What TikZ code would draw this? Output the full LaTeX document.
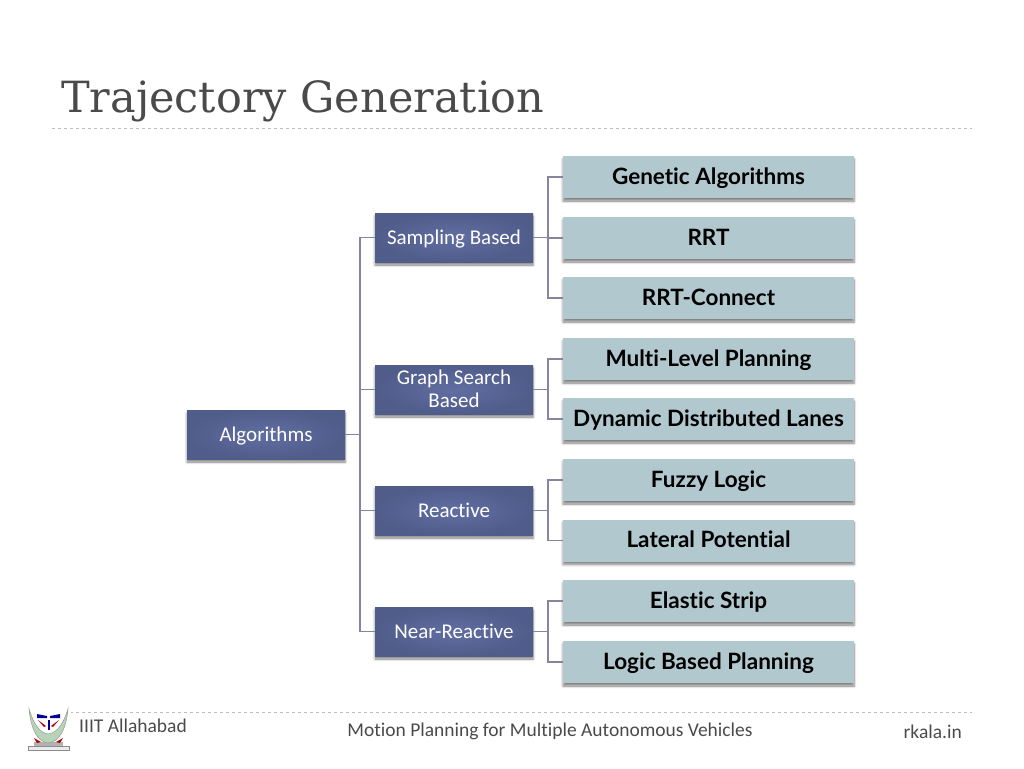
\documentclass[tikz,border=0pt]{standalone}
\usepackage{xcolor}
\usepackage{fontspec}
\setmainfont[Ligatures=NoCommon]{Carlito}
\newfontfamily\titlefont{DejaVu Serif}
\newfontfamily\leaffont[Ligatures=NoCommon]{Lato}
\usetikzlibrary{shadows.blur}
\definecolor{midblue}{HTML}{616EA2}
\definecolor{edgeblue}{HTML}{505C8A}
\definecolor{leafblue}{HTML}{B2C8CF}
\definecolor{linkgray}{HTML}{85859F}
\definecolor{rulegray}{HTML}{BDBDBD}
\definecolor{inkgray}{HTML}{4A4A4A}

\begin{document}
\begin{tikzpicture}[
		x=1pt,
		y=-1pt,
		soft/.style={blur shadow={shadow xshift=0pt, shadow yshift=-3pt, shadow blur radius=2.5pt, shadow blur steps=6, shadow opacity=50}},
		parent/.style={inner sep=0pt, minimum width=158pt, minimum height=49pt, align=center, text=white, soft, shade, inner color=midblue, outer color=edgeblue, font=\fontsize{21}{22}\selectfont},
		one line/.style={text height=14pt, text depth=0pt},
		leaf/.style={inner sep=0pt, minimum width=291pt, minimum height=42pt, one line, fill=leafblue, soft, font=\fontsize{22.5}{23}\leaffont\bfseries},
		link/.style={linkgray, line width=1.5pt},
		rule/.style={rulegray, dashed, line width=0.8pt},
		foot/.style={inner sep=0pt, text=inkgray, font=\fontsize{19.5}{22}\selectfont}
		]
	\useasboundingbox (0, 0) rectangle (1024, 768);

	% Title
	\node[anchor=base west, inner sep=0pt, text=inkgray, font=\fontsize{43}{50}\titlefont] (title) at (61, 112) {Trajectory Generation};
	\draw[rule] (52, 128) -- (972, 128);

	% Algorithms
	\node[parent, one line] (alg) at (266, 434.5) {Algorithms};

	% Middle column
	\node[parent, one line] (sampling) at (454, 237.5) {Sampling Based};
	\node[parent, text depth=2pt] (graph) at (454, 389.5) {Graph Search\\[1pt]Based};
	\node[parent, one line] (reactive) at (454, 510.5) {Reactive};
	\node[parent, one line] (near) at (454, 631.5) {Near-Reactive};

	% Right column
	\foreach \name/\y/\label in {genetic/177/Genetic Algorithms, rrt/238/RRT, connect/298/RRT-Connect, multi/359/Multi-Level Planning, lanes/419/Dynamic Distributed Lanes, fuzzy/480/Fuzzy Logic, lateral/540.5/Lateral Potential, elastic/601/Elastic Strip, logic/662/Logic Based Planning}{
		\node[leaf] (\name) at (708.5, \y) {\label};
	}

	% Links
	\coordinate (trunk) at (360, 434.5);
	\draw[link] (alg.east) -- (trunk);
	\foreach \name in {sampling, graph, reactive, near}{
		\draw[link] (trunk) |- (\name.west);
	}
	\foreach \from/\to in {sampling/genetic, sampling/rrt, sampling/connect, graph/multi, graph/lanes, reactive/fuzzy, reactive/lateral, near/elastic, near/logic}{
		\draw[link] (\from.east) -- ++(15, 0) |- (\to.west);
	}

	% Footer
	\draw[rule] (52, 712) -- (972, 712);
	\node[foot, anchor=base west] (inst) at (79, 732) {IIIT Allahabad};
	\node[foot, anchor=base] (course) at (550, 736) {Motion Planning for Multiple Autonomous Vehicles};
	\node[foot, anchor=base east] (site) at (962, 738) {rkala.in};

	% Emblem
	\fill[white] (26, 708) rectangle (71, 752);
	\draw[fill=black!8, draw=black!45, line width=0.8pt] (28, 746) rectangle (69, 750);
	\fill[black!30] (34, 742) rectangle (63, 746);
	\draw[fill=green!25!gray!45, draw=black!40, line width=0.5pt] (29, 709) .. controls (31, 730) and (38, 742) .. (48, 743) .. controls (59, 742) and (66, 730) .. (68, 709) .. controls (64, 722) and (58, 733) .. (48, 734) .. controls (39, 733) and (33, 722) .. (29, 709) -- cycle;
	\fill[blue!60!black] (37, 714) -- (47, 716) -- (47, 718) -- (37, 718) -- cycle;
	\fill[blue!60!black] (60, 714) -- (50, 716) -- (50, 718) -- (60, 718) -- cycle;
	\fill[blue!60!black] (47.5, 720) rectangle (50, 730);
	\fill[red!70!black] (38, 720) -- (46, 726) -- (44, 727) -- cycle;
	\fill[red!70!black] (59, 720) -- (51, 726) -- (53, 727) -- cycle;
	\fill[red!70!black] (34, 738) -- (41, 742) -- (37, 743) -- cycle;
	\fill[red!70!black] (63, 738) -- (56, 742) -- (60, 743) -- cycle;
\end{tikzpicture}
\end{document}
